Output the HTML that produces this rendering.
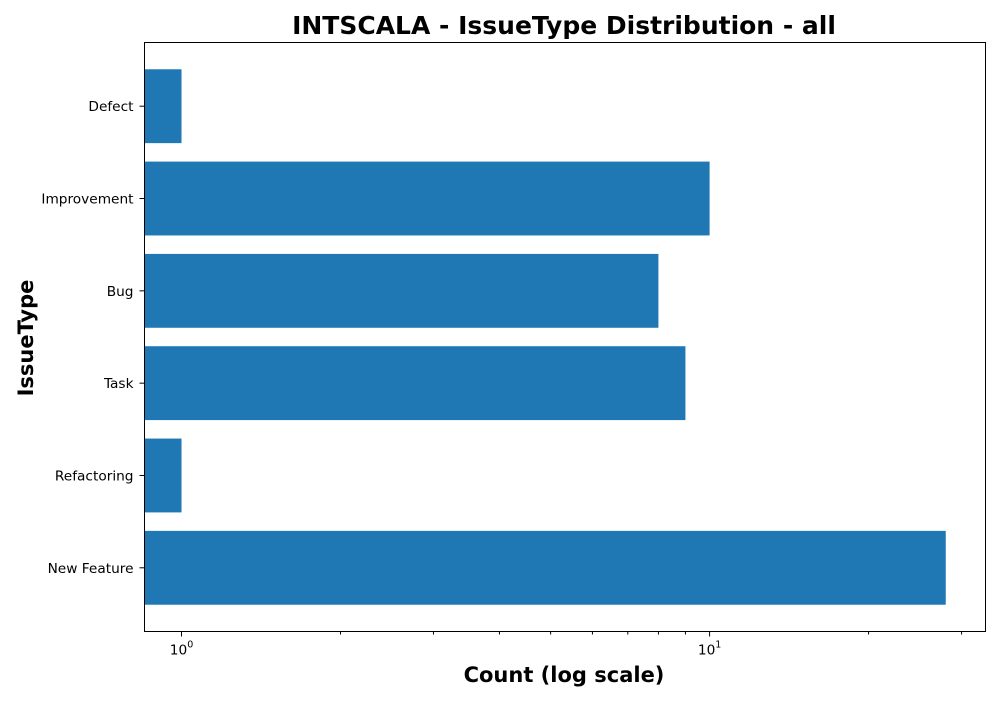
<!DOCTYPE html>
<html><head><meta charset="utf-8"><style>
body{margin:0;background:#fff;}
svg text{font-family:"DejaVu Sans","Liberation Sans",sans-serif;}
</style></head><body>
<svg id="chart" width="1000" height="700" xmlns="http://www.w3.org/2000/svg">
<rect width="1000" height="700" fill="#fff"/>
<text x="564" y="34" text-anchor="middle" font-size="25" font-weight="bold">INTSCALA - IssueType Distribution - all</text>
<text x="564" y="682" text-anchor="middle" font-size="21" font-weight="bold">Count (log scale)</text>
<text transform="translate(33,338) rotate(-90)" text-anchor="middle" font-size="21" font-weight="bold">IssueType</text>
<g id="bars"></g>
<g id="ticks"></g>
<rect x="144.5" y="42.5" width="841" height="589" fill="none" stroke="#000" stroke-width="1"/>
</svg>
<script>
const categories = ["Defect","Improvement","Bug","Task","Refactoring","New Feature"];
const counts = [1,10,8,9,1,28];
const xMajorTicks = [1,10];
const xMajorLabels = ["0","1"];
const xMinorTicks = [2,3,4,5,6,7,8,9,20,30];

const L=144.5,R=985.5,T=42.5,B=631.5;
const xMin=Math.log10(0.851), xMax=Math.log10(33.3);
function xs(v){return L+(Math.log10(v)-xMin)/(xMax-xMin)*(R-L);}
const yMin=-0.69,yMax=categories.length-1+0.69;
function ys(i){return T+(i-yMin)/(yMax-yMin)*(B-T);}
const NS="http://www.w3.org/2000/svg";
const bars=document.getElementById('bars'), ticks=document.getElementById('ticks');
function mk(tag,attrs,parent){const e=document.createElementNS(NS,tag);for(const k in attrs)e.setAttribute(k,attrs[k]);parent.appendChild(e);return e;}
const bh=0.8*(ys(1)-ys(0));
categories.forEach((c,i)=>{
  const y=ys(i);
  const r=mk('rect',{x:L,y:y-bh/2,width:Math.max(0,xs(counts[i])-L),height:bh,fill:'#1f77b4'},bars);
  
  
  mk('line',{x1:L-5,x2:L,y1:y,y2:y,stroke:'#000'},ticks);
  const t=mk('text',{x:L-11,y:y+5,'text-anchor':'end','font-size':'13.7'},ticks);
  t.textContent=c;
  
  
});
xMajorTicks.forEach((v,i)=>{
  const x=xs(v);
  mk('line',{x1:x,x2:x,y1:B,y2:B+5,stroke:'#000'},ticks);
  const t=mk('text',{x:x,y:B+23,'text-anchor':'middle','font-size':'13.7'},ticks);
  
  
  t.innerHTML='10<tspan dy="-7" font-size="9.5">'+xMajorLabels[i]+'</tspan>';
});
xMinorTicks.forEach(v=>{
  const x=xs(v);
  mk('line',{x1:x,x2:x,y1:B,y2:B+3,stroke:'#000'},ticks);
});
</script>
</body></html>
